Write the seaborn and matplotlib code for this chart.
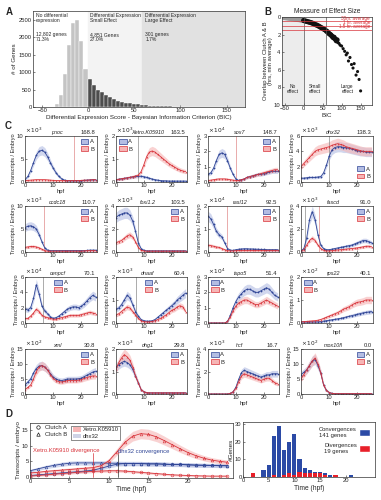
import numpy as np
import matplotlib
matplotlib.use("Agg")
import matplotlib.pyplot as plt
import seaborn as sns
from matplotlib.lines import Line2D
from matplotlib.patches import Patch

sns.set_theme(style="ticks")
plt.rcParams["font.family"] = ["Liberation Sans", "DejaVu Sans"]
plt.rcParams["axes.linewidth"] = 0.5

# ---------------- data ----------------
# Panel A: histogram of BIC scores
bic_centers = [-34.4, -30.0, -25.6, -21.3, -16.9, -12.6, -8.2, -3.9,
               1.5, 5.8, 10.1, 14.5, 18.8, 23.2, 27.5, 31.9, 36.2, 40.6,
               44.9, 49.3, 53.6, 58.0, 62.3, 66.7, 71.0, 75.4, 79.7, 84.1,
               88.4, 92.8, 97.1, 101.5, 105.8, 110.2, 114.5, 118.9, 123.2,
               127.6, 131.9, 136.3, 140.6, 145.0, 149.3]
bic_counts = [100, 350, 950, 1780, 2420, 2480, 1880, 1080,
              800, 640, 500, 420, 340, 280, 220, 180, 150, 125,
              105, 90, 75, 62, 50, 42, 35, 28, 23, 19, 16,
              13, 11, 9, 7, 6, 5, 4, 3, 3, 2, 2, 2, 1, 1]

# Panel B: effect size vs BIC
b_bic = [-52, -48, -44, -40, -36, -32, -28, -24, -20, -16, -12, -8, -4, 0,
         4, 8, 12, 16, 20, 24, 28, 32, 36, 40, 44, 48, 52, 56, 60, 63, 66,
         69, 72, 75, 78, 80, 83, 86, 88, 90, 93, 96, 100, 104, 108, 112,
         115, 118, 122, 126, 130, 133, 138, 142, 146, 150]
b_overlap = [0.05, 0.07, 0.1, 0.12, 0.15, 0.18, 0.2, 0.22, 0.25, 0.28, 0.3,
             0.33, 0.36, 0.4, 0.45, 0.5, 0.55, 0.6, 0.65, 0.72, 0.8, 0.88,
             0.95, 1.05, 1.15, 1.25, 1.35, 1.45, 1.6, 1.7, 1.85, 1.95, 2.05,
             2.2, 2.35, 2.3, 2.5, 2.7, 2.6, 2.9, 3.0, 3.2, 3.3, 3.6, 3.9,
             4.3, 4.1, 5.0, 4.6, 5.4, 5.8, 5.3, 6.6, 6.2, 7.1, 8.4]
b_ref_levels = [0.5, 1.0, 1.5]
b_ref_labels = ["30m. average", "1 hr. average", "1.5 hr. average"]

# Panel C: time courses (transcripts / embryo, scaled)
hpf = list(range(26))
pnoc_a = [0.5, 1.2, 2.5, 4.2, 5.8, 6.7, 6.9, 6.5, 5.5, 4.2, 3.0, 2.0, 1.2, 0.7, 0.4, 0.3, 0.3, 0.3, 0.3, 0.3, 0.3, 0.35, 0.4, 0.45, 0.5, 0.5]
pnoc_b = [0.3, 0.35, 0.4, 0.45, 0.5, 0.5, 0.5, 0.5, 0.45, 0.4, 0.35, 0.3, 0.3, 0.3, 0.3, 0.3, 0.3, 0.3, 0.3, 0.3, 0.35, 0.4, 0.4, 0.45, 0.5, 0.5]
xetro_a = [0.1, 0.12, 0.14, 0.16, 0.18, 0.2, 0.22, 0.24, 0.25, 0.25, 0.23, 0.2, 0.16, 0.13, 0.1, 0.08, 0.06, 0.05, 0.05, 0.04, 0.04, 0.04, 0.04, 0.04, 0.04, 0.04]
xetro_b = [0.1, 0.12, 0.14, 0.16, 0.18, 0.2, 0.23, 0.26, 0.3, 0.45, 0.75, 1.1, 1.3, 1.35, 1.3, 1.2, 1.1, 1.0, 0.9, 0.8, 0.72, 0.65, 0.58, 0.52, 0.48, 0.45]
sox7_a = [0.5, 0.6, 0.9, 1.4, 1.8, 1.9, 1.8, 1.4, 0.9, 0.5, 0.2, 0.1, 0.15, 0.2, 0.3, 0.35, 0.4, 0.45, 0.5, 0.5, 0.55, 0.6, 0.65, 0.7, 0.7, 0.7]
sox7_b = [0.1, 0.12, 0.15, 0.18, 0.2, 0.2, 0.2, 0.18, 0.15, 0.12, 0.1, 0.1, 0.15, 0.2, 0.3, 0.35, 0.4, 0.45, 0.5, 0.55, 0.6, 0.65, 0.7, 0.75, 0.8, 0.8]
dhx32_a = [0.5, 0.5, 0.55, 0.6, 0.6, 0.6, 0.65, 0.7, 1.2, 2.2, 3.4, 4.2, 4.5, 4.6, 4.6, 4.5, 4.5, 4.4, 4.3, 4.2, 4.1, 4.0, 4.0, 3.9, 3.9, 3.9]
dhx32_b = [2.0, 2.4, 2.8, 3.2, 3.6, 4.0, 4.2, 4.3, 4.4, 4.5, 4.6, 4.8, 4.9, 5.0, 4.9, 4.8, 4.6, 4.5, 4.4, 4.3, 4.2, 4.1, 4.0, 4.0, 4.0, 4.0]
ccdc18_a = [5.3, 5.6, 5.7, 5.5, 5.0, 3.8, 2.2, 0.9, 0.4, 0.3, 0.3, 0.3, 0.3, 0.3, 0.3, 0.3, 0.3, 0.3, 0.3, 0.3, 0.3, 0.3, 0.35, 0.4, 0.4, 0.4]
ccdc18_b = [1.0, 1.1, 1.2, 1.2, 1.1, 0.9, 0.6, 0.3, 0.2, 0.2, 0.2, 0.2, 0.2, 0.2, 0.2, 0.2, 0.2, 0.2, 0.2, 0.2, 0.2, 0.25, 0.3, 0.3, 0.3, 0.3]
foxi_a = [3.0, 3.2, 3.3, 3.4, 3.4, 3.2, 2.7, 1.8, 0.8, 0.3, 0.15, 0.1, 0.1, 0.1, 0.1, 0.1, 0.1, 0.1, 0.1, 0.1, 0.1, 0.1, 0.1, 0.1, 0.1, 0.1]
foxi_b = [0.8, 0.9, 1.0, 1.2, 1.4, 1.5, 1.3, 0.9, 0.4, 0.15, 0.1, 0.08, 0.08, 0.08, 0.08, 0.08, 0.08, 0.08, 0.08, 0.08, 0.08, 0.08, 0.08, 0.08, 0.08, 0.08]
rasl_a = [1.55, 1.45, 1.2, 0.9, 0.75, 0.65, 0.4, 0.15, 0.08, 0.07, 0.1, 0.12, 0.13, 0.14, 0.14, 0.13, 0.13, 0.12, 0.12, 0.11, 0.11, 0.1, 0.1, 0.1, 0.1, 0.1]
rasl_b = [0.3, 0.28, 0.25, 0.22, 0.2, 0.15, 0.1, 0.06, 0.05, 0.05, 0.06, 0.07, 0.07, 0.07, 0.07, 0.07, 0.07, 0.07, 0.07, 0.07, 0.07, 0.07, 0.07, 0.07, 0.07, 0.07]
fascd_a = [0.1, 0.3, 1.2, 2.8, 3.5, 2.8, 1.5, 0.6, 0.3, 0.2, 0.2, 0.25, 0.3, 0.35, 0.4, 0.45, 0.5, 0.55, 0.6, 0.7, 0.8, 0.9, 1.0, 1.0, 0.9, 0.8]
fascd_b = [0.05, 0.2, 0.6, 1.0, 1.2, 1.0, 0.6, 0.3, 0.15, 0.1, 0.1, 0.12, 0.15, 0.18, 0.2, 0.22, 0.25, 0.28, 0.3, 0.33, 0.36, 0.4, 0.45, 0.5, 0.5, 0.45]
cenp_a = [1.8, 1.7, 2.0, 3.2, 5.0, 3.8, 2.2, 1.6, 1.2, 0.8, 0.6, 0.7, 0.9, 1.2, 1.5, 1.8, 2.0, 2.1, 2.1, 2.0, 2.2, 2.5, 2.9, 3.3, 3.6, 3.4]
cenp_b = [0.6, 0.6, 0.9, 1.3, 1.8, 1.5, 1.0, 0.8, 0.7, 0.6, 0.5, 0.5, 0.6, 0.7, 0.8, 0.9, 1.0, 1.0, 1.0, 1.0, 1.1, 1.2, 1.3, 1.4, 1.3, 1.2]
dnaaf_a = [0.6, 0.65, 0.8, 1.0, 1.2, 1.1, 0.8, 0.5, 0.3, 0.15, 0.1, 0.08, 0.08, 0.1, 0.15, 0.25, 0.35, 0.45, 0.55, 0.65, 0.75, 0.85, 1.0, 1.1, 1.2, 1.3]
dnaaf_b = [0.35, 0.4, 0.5, 0.6, 0.7, 0.65, 0.5, 0.35, 0.2, 0.1, 0.06, 0.05, 0.05, 0.07, 0.1, 0.15, 0.2, 0.28, 0.35, 0.45, 0.55, 0.6, 0.7, 0.75, 0.7, 0.5]
tspo_a = [0, 0, 0, 0, 0, 0, 0, 0.1, 0.5, 1.0, 1.4, 1.7, 1.9, 2.1, 2.2, 2.2, 2.1, 2.0, 2.0, 2.1, 2.2, 2.3, 2.2, 2.0, 1.8, 1.7]
tspo_b = [0, 0, 0, 0, 0, 0, 0, 0.1, 0.4, 0.8, 1.1, 1.3, 1.4, 1.5, 1.5, 1.4, 1.3, 1.2, 1.2, 1.3, 1.4, 1.5, 1.4, 1.3, 1.2, 1.1]
rps_a = [0.05, 0.05, 0.05, 0.05, 0.05, 0.05, 0.05, 0.06, 0.08, 0.1, 0.12, 0.14, 0.16, 0.18, 0.2, 0.23, 0.26, 0.29, 0.32, 0.35, 0.38, 0.41, 0.44, 0.46, 0.48, 0.5]
rps_b = [0.05, 0.06, 0.07, 0.08, 0.09, 0.1, 0.12, 0.15, 0.2, 0.25, 0.3, 0.35, 0.4, 0.45, 0.52, 0.6, 0.65, 0.7, 0.78, 0.85, 0.9, 0.92, 0.95, 1.0, 1.0, 1.0]
xml_a = [3.0, 4.0, 5.0, 7.0, 8.5, 9.3, 9.5, 9.0, 8.0, 6.8, 5.6, 5.0, 4.6, 4.5, 4.7, 5.0, 5.0, 5.0, 5.0, 5.1, 5.3, 5.8, 6.3, 6.8, 7.3, 7.6]
xml_b = [1.5, 2.2, 3.0, 5.0, 7.5, 9.0, 9.5, 9.0, 8.0, 6.5, 5.2, 4.5, 4.1, 4.0, 4.2, 4.5, 4.5, 4.5, 4.5, 4.6, 4.8, 5.2, 5.5, 5.8, 6.0, 6.0]
dhg_a = [1.2, 1.3, 1.4, 1.45, 1.4, 1.3, 1.1, 0.8, 0.5, 0.2, 0.1, 0.06, 0.05, 0.05, 0.05, 0.05, 0.05, 0.05, 0.05, 0.05, 0.05, 0.05, 0.05, 0.05, 0.05, 0.05]
dhg_b = [1.1, 1.4, 1.6, 1.75, 1.65, 1.5, 1.2, 0.8, 0.5, 0.2, 0.1, 0.06, 0.05, 0.05, 0.05, 0.05, 0.05, 0.05, 0.05, 0.05, 0.05, 0.05, 0.05, 0.05, 0.05, 0.05]
hcf_a = [0, 0, 0, 0, 0, 0, 0, 0, 0.05, 0.2, 0.6, 1.3, 1.9, 2.1, 2.0, 1.9, 1.8, 1.7, 1.6, 1.5, 1.6, 1.7, 1.7, 1.8, 1.8, 1.8]
hcf_b = [0, 0, 0, 0, 0, 0, 0, 0, 0.05, 0.2, 0.5, 1.1, 1.6, 1.8, 1.7, 1.6, 1.5, 1.4, 1.3, 1.2, 1.3, 1.4, 1.4, 1.2, 1.0, 0.9]
mox_a = [6.5, 7.2, 8.0, 9.5, 11.0, 11.5, 9.5, 7.0, 3.0, 1.2, 0.5, 0.2, 0.1, 0.1, 0.1, 0.1, 0.1, 0.1, 0.1, 0.1, 0.1, 0.1, 0.1, 0.1, 0.1, 0.1]
mox_b = [5.0, 6.5, 8.0, 9.5, 11.0, 12.0, 10.0, 7.0, 3.0, 1.2, 0.5, 0.2, 0.1, 0.1, 0.1, 0.1, 0.1, 0.1, 0.1, 0.1, 0.1, 0.1, 0.1, 0.1, 0.1, 0.1]

c_genes = ["pnoc", "Xetro.K05910", "sox7", "dhx32",
           "ccdc18", "foxi1.2", "rasl12", "fascd",
           "cenpcf", "dnaaf", "tspo5", "rps22",
           "xml", "dhg1", "hcf", "mox10fl"]
c_bic = ["168.8", "163.5", "148.7", "138.3",
         "110.7", "103.5", "92.5", "91.0",
         "70.1", "60.4", "51.4", "40.1",
         "30.8", "29.8", "16.7", "0.0"]
c_exp = [3, 3, 4, 3, 3, 3, 4, 3, 4, 3, 4, 2, 2, 3, 3, 2]
c_a = [pnoc_a, xetro_a, sox7_a, dhx32_a, ccdc18_a, foxi_a, rasl_a, fascd_a,
       cenp_a, dnaaf_a, tspo_a, rps_a, xml_a, dhg_a, hcf_a, mox_a]
c_b = [pnoc_b, xetro_b, sox7_b, dhx32_b, ccdc18_b, foxi_b, rasl_b, fascd_b,
       cenp_b, dnaaf_b, tspo_b, rps_b, xml_b, dhg_b, hcf_b, mox_b]
c_ymax = [10, 2, 3, 6, 10, 4, 2, 4, 6, 2, 3, 2, 15, 2, 4, 15]
c_ystep = [5, 1, 1, 2, 5, 2, 1, 2, 2, 1, 1, 1, 5, 1, 2, 5]
c_vlines = [[(17.5, "r")], [(8, "g")], [(10, "r")], [(10, "g")],
            [(6.8, "r")], [(8, "g")], [(6.8, "r")], [(1.3, "g"), (6.5, "r")],
            [(6.2, "g")], [(7.3, "g")], [], [], [], [], [], []]
c_legend_loc = ["upper right", "upper left", "upper right", "lower right",
                "upper right", "upper right", "upper right", "upper right",
                "upper center", "upper center", "upper left", "upper left",
                "upper right", "upper right", "upper left", "upper right"]

# Panel D left: two example genes
d_xetro_a = [0.3, 0.5, 0.7, 0.9, 1.1, 1.3, 1.5, 1.7, 1.8, 1.9, 2.0, 2.0, 1.9, 1.7, 1.5, 1.3, 1.1, 0.9, 0.7, 0.6, 0.5, 0.4, 0.35, 0.3, 0.3, 0.3]
d_xetro_b = [1.3, 1.5, 1.8, 2.0, 2.2, 2.4, 2.6, 2.8, 3.0, 3.6, 5.2, 8.0, 11.0, 13.0, 13.8, 13.6, 12.8, 11.6, 10.3, 9.0, 7.8, 6.8, 6.0, 5.4, 5.0, 4.7]
d_dhx_a = [0.5, 0.7, 0.9, 1.1, 1.3, 1.5, 1.7, 1.9, 2.2, 2.8, 3.5, 4.1, 4.3, 4.3, 4.3, 4.2, 4.2, 4.1, 4.0, 4.0, 3.9, 3.8, 3.7, 3.7, 3.6, 3.6]
d_dhx_b = [2.0, 2.6, 3.2, 3.7, 4.1, 4.4, 4.5, 4.5, 4.5, 4.5, 4.4, 4.4, 4.3, 4.3, 4.3, 4.2, 4.2, 4.1, 4.0, 4.0, 3.9, 3.8, 3.8, 3.7, 3.7, 3.6]

# Panel D right: timing of convergence / divergence
conv_hpf = [4, 5, 6, 7, 8, 9, 10, 11, 12, 13, 14, 15, 16, 17, 18, 21]
conv_n = [4, 7, 23, 29, 15, 20, 24, 10, 5, 4, 3, 3, 2, 1, 1, 1]
div_hpf = [2, 6, 8, 9, 10, 11, 12, 13, 14, 15, 16, 18]
div_n = [2, 1, 1, 2, 1, 3, 2, 2, 2, 2, 1, 1]

# ---------------- styling ----------------
BLUE = "#2f4596"
BLUE_L = "#b3bde3"
RED = "#d8333a"
RED_L = "#f6b5b5"
FS = 4.2
W, H = 381, 500


def px(x0, y0, x1, y1):
    return [x0 / W, 1 - y1 / H, (x1 - x0) / W, (y1 - y0) / H]


def style(ax):
    ax.tick_params(direction="in", length=1.5, width=0.4, labelsize=FS, pad=1)
    for s in ax.spines.values():
        s.set_visible(True)
        s.set_linewidth(0.5)
        s.set_color("#333333")


fig = plt.figure(figsize=(W / 100, H / 100), dpi=100)

# ---------------- A ----------------
axA = fig.add_axes(px(33, 11, 245, 107))
axA.axvspan(-60, 0, color="white", zorder=0)
axA.axvspan(0, 58, color="#f3f3f3", zorder=0)
axA.axvspan(58, 170, color="#e1e1e1", zorder=0)
edges = [c - 2.2 for c in bic_centers] + [bic_centers[-1] + 2.2]
neg = [i for i, c in enumerate(bic_centers) if c < 0]
pos = [i for i, c in enumerate(bic_centers) if c >= 0]
sns.histplot(x=[bic_centers[i] for i in neg], weights=[bic_counts[i] for i in neg],
             bins=edges[:len(neg) + 1], color="#c4c4c4", edgecolor="white",
             linewidth=0.3, alpha=1, ax=axA)
sns.histplot(x=[bic_centers[i] for i in pos], weights=[bic_counts[i] for i in pos],
             bins=edges[len(neg):], color="#4d4d4d", edgecolor="white",
             linewidth=0.3, alpha=1, ax=axA)
axA.set_xlim(-60, 170)
axA.set_ylim(0, 2750)
axA.set_yticks([0, 500, 1000, 1500, 2000, 2500])
axA.set_xticks([-50, 0, 50, 100, 150])
axA.set_xlabel("Differential Expression Score - Bayesian Information Criterion (BIC)",
               fontsize=FS + 0.3, labelpad=1)
axA.set_ylabel("# of Genes", fontsize=FS + 0.3, labelpad=1)
style(axA)
for xt, t1, t2 in [(-57, "No differential\nexpression", "12,802 genes\n71.3%"),
                   (2, "Differential Expression\nSmall Effect", "4,851 Genes\n27.0%"),
                   (62, "Differential Expression\nLarge Effect", "301 genes\n1.7%")]:
    axA.text(xt, 2700, t1, fontsize=3.6, va="top", ha="left", linespacing=1.0)
    axA.text(xt, 2150, t2, fontsize=3.6, va="top", ha="left", linespacing=1.0)

# ---------------- B ----------------
axB = fig.add_axes(px(282, 17, 372, 105))
axB.axvspan(-57, 0, color="#ececec", zorder=0)
axB.axvspan(0, 58, color="#f6f6f6", zorder=0)
axB.axvline(0, color="#555555", lw=0.5)
axB.axvline(58, color="#555555", lw=0.5)
for lv in b_ref_levels:
    axB.axhline(lv, color=RED, lw=0.5)
for lv, lab in zip(b_ref_levels, b_ref_labels):
    axB.text(175, lv - 0.08, lab, color=RED, fontsize=3.3, ha="right", va="bottom")
hue = ["lo" if x < 0 else "hi" for x in b_bic]
sizes = [14 if x < 90 else 5 for x in b_bic]
sns.scatterplot(x=b_bic, y=b_overlap, hue=hue, palette={"lo": "#9a9a9a", "hi": "#111111"},
                size=sizes, sizes=(5, 14), linewidth=0, legend=False, ax=axB)
axB.set_xlim(-57, 180)
axB.set_ylim(10, 0)
axB.set_yticks([0, 2, 4, 6, 8, 10])
axB.set_xticks([-50, 0, 50, 100, 150])
axB.set_xlabel("BIC", fontsize=FS + 0.3, labelpad=1)
axB.set_ylabel("Overlap between Clutch A & B\n(hrs, min average)", fontsize=FS, labelpad=1,
               linespacing=1.0)
axB.set_title("Measure of Effect Size", fontsize=FS + 0.6, pad=3)
for xt, lab in [(-28, "No\neffect"), (29, "Small\neffect"), (115, "Large\neffect")]:
    axB.text(xt, 8.2, lab, fontsize=3.5, ha="center", va="center", linespacing=1.0)
style(axB)

# ---------------- C ----------------
col_x = [(25, 97), (116, 187), (208, 279), (301, 373)]
row_y = [(136, 182), (206, 252), (277, 323), (349, 394)]
for k in range(16):
    r, c = divmod(k, 4)
    ax = fig.add_axes(px(col_x[c][0], row_y[r][0], col_x[c][1], row_y[r][1]))
    ymax = c_ymax[k]
    for vx, vc in c_vlines[k]:
        ax.axvline(vx, color="#e08a8a" if vc == "r" else "#8a8a8a", lw=0.5)
    for vals, col, lcol, mk in [(c_a[k], BLUE, BLUE_L, "o"), (c_b[k], RED, RED_L, "^")]:
        v = np.array(vals)
        half = 0.12 * v + 0.02 * ymax
        ax.fill_between(hpf, v - half, v + half, color=lcol, alpha=0.6, lw=0)
        sns.lineplot(x=hpf, y=vals, color=col, lw=0.6, marker=mk, markersize=1.3,
                     markeredgewidth=0, ax=ax)
    ax.set_xlim(0, 25.5)
    ax.set_ylim(0, ymax)
    ax.set_xticks([0, 10, 20])
    ax.set_yticks(np.arange(0, ymax + 0.01, c_ystep[k]))
    ax.set_xlabel("hpf", fontsize=FS, labelpad=0.5)
    ax.set_ylabel("Transcripts / Embryo", fontsize=FS - 0.2, labelpad=1)
    style(ax)
    ax.text(0.0, 1.03, r"$\times\,10^{%d}$" % c_exp[k], transform=ax.transAxes,
            fontsize=FS, ha="left", va="bottom")
    ax.text(0.45, 1.03, c_genes[k], transform=ax.transAxes, fontsize=FS - 0.3,
            ha="center", va="bottom", style="italic")
    ax.text(0.98, 1.03, c_bic[k], transform=ax.transAxes, fontsize=FS,
            ha="right", va="bottom")
    handles = [Patch(facecolor=BLUE_L, edgecolor=BLUE, lw=0.5, label="A"),
               Patch(facecolor=RED_L, edgecolor=RED, lw=0.5, label="B")]
    ax.legend(handles=handles, loc=c_legend_loc[k], fontsize=FS, frameon=False,
              handlelength=1.3, handleheight=0.9, handletextpad=0.3,
              labelspacing=0.3, borderpad=0.3, borderaxespad=0.2)

# ---------------- D left ----------------
axD = fig.add_axes(px(30, 423, 233, 478))
for a_vals, b_vals, col, lcol in [(d_dhx_a, d_dhx_b, BLUE, BLUE_L),
                                   (d_xetro_a, d_xetro_b, RED, RED_L)]:
    for vals, mk in [(a_vals, "o"), (b_vals, "^")]:
        v = np.array(vals)
        half = 0.1 * v + 0.25
        axD.fill_between(hpf, v - half, v + half, color=lcol, alpha=0.6, lw=0)
        sns.lineplot(x=hpf, y=vals, color=col, lw=0.6, marker=mk, markersize=2,
                     markerfacecolor="none", markeredgecolor=col, markeredgewidth=0.4,
                     ax=axD)
axD.plot([8, 8], [0, 7.6], color=RED, lw=0.5)
axD.plot([11.1, 11.1], [0, 7.2], color="#333333", lw=0.5)
axD.text(0.4, 7.7, "Xetro.K05910 divergence", color=RED, fontsize=FS, va="bottom")
axD.text(11.2, 7.3, "dhx32 convergence", color=BLUE, fontsize=FS, va="bottom")
axD.set_xlim(0, 25.7)
axD.set_ylim(-0.3, 17.2)
axD.set_xticks([0, 5, 10, 15, 20])
axD.set_yticks([0, 5, 10, 15])
axD.set_xlabel("Time (hpf)", fontsize=FS + 0.6, labelpad=1)
axD.set_ylabel("Transcripts / embryo", fontsize=FS + 0.4, labelpad=1)
style(axD)
leg1 = axD.legend(handles=[Line2D([], [], marker="o", ls="none", mfc="none", mec="k", ms=2.5, mew=0.5, label="Clutch A"),
                           Line2D([], [], marker="^", ls="none", mfc="none", mec="k", ms=2.5, mew=0.5, label="Clutch B")],
                  loc="upper left", fontsize=FS, frameon=False, handletextpad=0.2,
                  labelspacing=0.2, borderpad=0.2, borderaxespad=0.2)
axD.add_artist(leg1)
axD.legend(handles=[Patch(facecolor=RED_L, edgecolor="none", label="Xetro.K05910"),
                    Patch(facecolor="#cfd3e6", edgecolor="none", label="dhx32")],
           loc="upper left", bbox_to_anchor=(0.19, 1.0), fontsize=FS, frameon=True,
           fancybox=False, edgecolor="#333333", framealpha=1, handlelength=1.5,
           handleheight=0.8, handletextpad=0.3, labelspacing=0.2, borderpad=0.2).get_frame().set_linewidth(0.4)

# ---------------- D right ----------------
axE = fig.add_axes(px(243, 422, 375, 477))
sns.histplot(x=conv_hpf, weights=conv_n, discrete=True, shrink=0.8,
             color="#2b4aa6", alpha=1, linewidth=0, ax=axE)
sns.histplot(x=div_hpf, weights=div_n, discrete=True, shrink=0.8,
             color="#e8202a", alpha=1, linewidth=0, ax=axE)
axE.set_xlim(0, 25.7)
axE.set_ylim(0, 31)
axE.set_xticks([0, 5, 10, 15, 20])
axE.set_yticks([0, 10, 20, 30])
axE.set_xlabel("Time (hpf)", fontsize=FS + 0.6, labelpad=1)
axE.set_ylabel("#Genes", fontsize=FS + 0.4, labelpad=1)
style(axE)
axE.legend(handles=[Patch(facecolor="#2b4aa6", label="Convergences\n141 genes"),
                    Patch(facecolor="#e8202a", label="Divergences\n19 genes")],
           loc="upper right", fontsize=FS, frameon=False, markerfirst=False,
           handlelength=1.8, handleheight=1.4, labelspacing=0.8, handletextpad=0.4)

# panel letters
for lab, x, y in [("A", 6, 12), ("B", 264, 12), ("C", 5, 126), ("D", 5, 414)]:
    fig.text(x / W, 1 - y / H, lab, fontsize=7, fontweight="bold", va="center")

fig.savefig("out.png", dpi=100)
